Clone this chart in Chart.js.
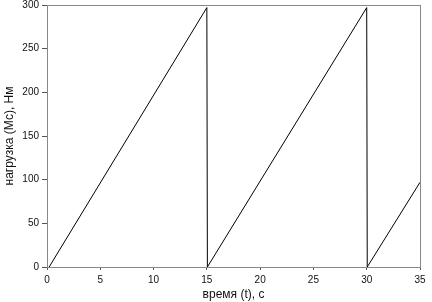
<!DOCTYPE html>
<html>
<head>
<meta charset="utf-8">
<script src="https://cdn.jsdelivr.net/npm/chart.js@4/dist/chart.umd.min.js"></script>
<style>
  html, body { margin: 0; padding: 0; background: #fff; }
  #wrap { width: 432px; height: 302px; }
</style>
</head>
<body>
<div id="wrap"><canvas id="chart"></canvas></div>
<script>
// time (s) and load (Nm)
var times = [0.2, 15, 15.05, 30, 30.05, 35];
var loads = [0, 297, 0, 297, 0, 97];
var xTicks = [0, 5, 10, 15, 20, 25, 30, 35];
var yTicks = [0, 50, 100, 150, 200, 250, 300];

var points = times.map(function(t, i) { return { x: t, y: loads[i] }; });

// box around the plot area (top and right sides)
var frame = {
    id: 'frame',
    afterDraw: function(chart) {
        var a = chart.chartArea, ctx = chart.ctx;
        ctx.save();
        ctx.strokeStyle = '#888';
        ctx.lineWidth = 1;
        ctx.strokeRect(a.left + 0.5, a.top + 0.5, a.right - a.left, a.bottom - a.top);
        ctx.restore();
    }
};

var ctx = document.getElementById('chart');
new Chart(ctx, {
    type: 'scatter',
    data: {
        datasets: [{
            data: points,
            showLine: true,
            borderColor: '#000',
            borderWidth: 1,
            pointRadius: 0,
            tension: 0
        }]
    },
    options: {
        responsive: true,
        maintainAspectRatio: false,
        animation: false,
        layout: { padding: { top: 0, right: 12, left: 2, bottom: 0 } },
        plugins: {
            legend: { display: false },
            tooltip: { enabled: false }
        },
        scales: {
            x: {
                type: 'linear',
                min: 0,
                max: 35,
                afterBuildTicks: function(s) { s.ticks = xTicks.map(function(v) { return { value: v }; }); },
                afterFit: function(s) { s.height = 35; },
                grid: { drawOnChartArea: false, drawTicks: true, tickLength: 3, color: '#555' },
                border: { color: '#888', width: 1 },
                ticks: { color: '#111', font: { family: 'Liberation Sans', size: 10 }, padding: 4, maxRotation: 0 },
                title: {
                    display: true,
                    text: 'время (t), с',
                    color: '#111',
                    font: { family: 'Liberation Sans', size: 12 },
                    padding: { top: 0, bottom: 0 }
                }
            },
            y: {
                min: 0,
                max: 300,
                afterBuildTicks: function(s) { s.ticks = yTicks.map(function(v) { return { value: v }; }); },
                afterFit: function(s) { s.width = 45; s.paddingTop = 5; },
                grid: { drawOnChartArea: false, drawTicks: true, tickLength: 5, color: '#555' },
                border: { color: '#888', width: 1 },
                ticks: { color: '#111', font: { family: 'Liberation Sans', size: 10 }, padding: 3 },
                title: {
                    display: true,
                    text: 'нагрузка (Мс), Нм',
                    color: '#111',
                    font: { family: 'Liberation Sans', size: 12 },
                    padding: { top: 0, bottom: 0 }
                }
            }
        }
    },
    plugins: [frame]
});
</script>
</body>
</html>
